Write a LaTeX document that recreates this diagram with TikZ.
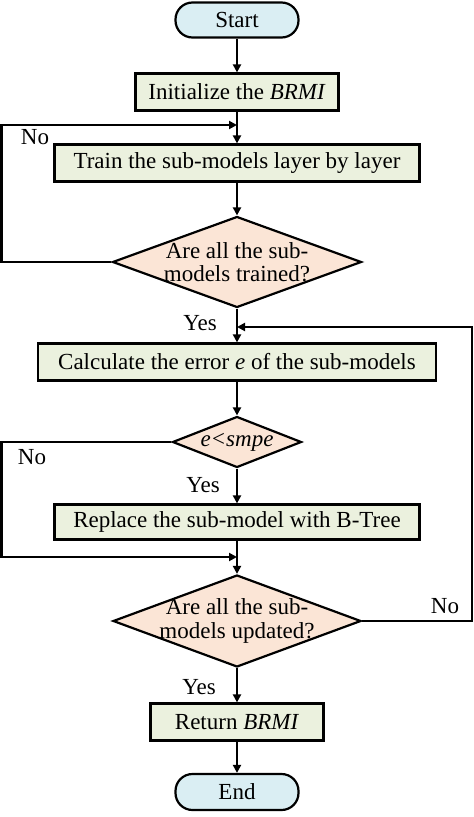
\documentclass[tikz,border=0pt]{standalone}
\usepackage{fontspec}
\setmainfont{Liberation Serif}
\usetikzlibrary{arrows.meta,shapes.geometric}
\definecolor{termblue}{HTML}{DAEEF3}
\definecolor{boxgreen}{HTML}{EBF1DE}
\definecolor{decpeach}{HTML}{FBE5D6}
\begin{document}
\begin{tikzpicture}[x=1pt,y=-1pt,>={Triangle[length=8pt,width=8pt]},line join=miter,line width=2.2pt,
	font=\fontsize{23}{23.5}\selectfont,
	term/.style={draw,fill=termblue,rounded corners=17pt,minimum height=35pt,minimum width=123pt},
	proc/.style={draw,fill=boxgreen,minimum height=37pt,inner sep=0pt},
	decide/.style={draw,fill=decpeach,diamond,inner sep=0pt},
	lbl/.style={inner sep=0pt}]
	\useasboundingbox (0,0) rectangle (474,817);
	% nodes
	\node[term] (start) at (237,20) {Start};
	\node[proc,minimum width=203pt] (init) at (237,92) {Initialize the \textit{BRMI}};
	\node[proc,minimum width=365pt] (train) at (237,163) {Train the sub-models layer by layer};
	\node[decide,minimum width=249pt,minimum height=91pt] (q1) at (237,262) {};
	\node[align=center,inner sep=0pt] (q1t) at (q1) {Are all the sub-\\models trained?};
	\node[proc,minimum width=398pt] (calc) at (237,362) {Calculate the error \textit{e} of the sub-models};
	\node[decide,minimum width=129pt,minimum height=51pt] (q2) at (237,442) {};
	\node[inner sep=0pt] (q2t) at (q2) {\textit{e<smpe}};
	\node[proc,minimum width=365pt,minimum height=35pt] (repl) at (237,522) {Replace the sub-model with B-Tree};
	\node[decide,minimum width=248pt,minimum height=92pt] (q3) at (237,621) {};
	\node[align=center,inner sep=0pt] (q3t) at (q3) {Are all the sub-\\models updated?};
	\node[proc,minimum width=173pt] (ret) at (237,722) {Return \textit{BRMI}};
	\node[term,minimum height=36pt] (stop) at (237,792) {End};
	% join points
	\coordinate (j1) at (237,125);
	\coordinate (j2) at (237,327);
	\coordinate (j3) at (237,557);
	% main flow
	\foreach \a/\b in {start/init,init/train,train/q1,q1/calc,calc/q2,q2/repl,repl/q3,q3/ret,ret/stop}
		\draw[->] (\a) -- (\b);
	% loops back
	\draw[->] (q1.west) -- ++(-110,0) |- (j1);
	\draw[->] (q2.west) -- ++(-170,0) |- (j3);
	\draw[->] (q3.east) -- ++(110,0) |- (j2);
	% labels
	\foreach \p/\t/\n in {{35,137}/No/n1,{200,323}/Yes/y1,{32,457}/No/n2,{203,485}/Yes/y2,{445,606}/No/n3,{199,687}/Yes/y3}
		\node[lbl] (\n) at (\p) {\t};
\end{tikzpicture}
\end{document}
